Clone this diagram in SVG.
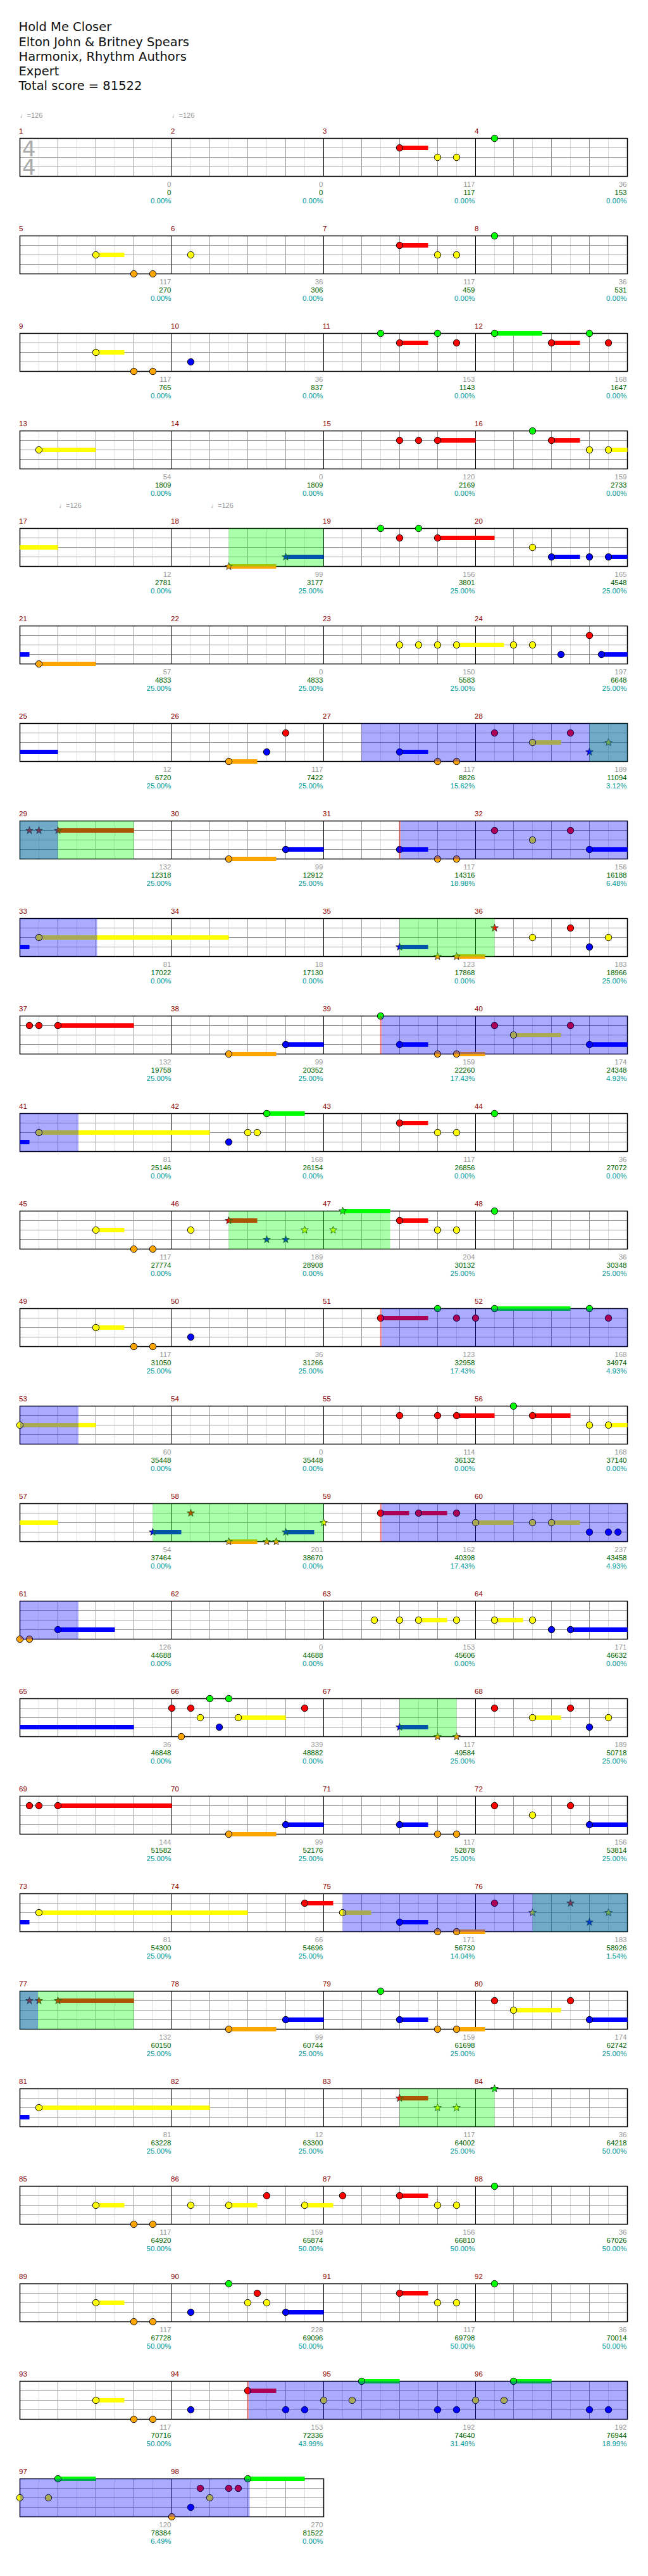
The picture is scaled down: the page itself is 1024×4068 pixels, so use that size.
<svg xmlns="http://www.w3.org/2000/svg" xmlns:xlink="http://www.w3.org/1999/xlink" width="1024" height="4068" viewBox="0 0 1024 4068">
<style>
.ti{font-family:"DejaVu Sans",sans-serif;font-size:19.5px;fill:#111}
.mn{font-family:"Liberation Sans",sans-serif;font-size:11.5px;fill:#8b0000}
.sc,.cu,.pc{font-family:"Liberation Sans",sans-serif;font-size:11.5px;text-anchor:end}
.sc{fill:#999}.cu{fill:#006400}.pc{fill:#009999}
.tp{font-family:"Liberation Sans","DejaVu Sans",sans-serif;font-size:11px;fill:#999}
.ts{font-family:"DejaVu Sans",sans-serif;font-size:34px;fill:#aaa}
.hG{fill:#0f0}.hR{fill:#f00}.hY{fill:#ff0}.hB{fill:#00f}.hO{fill:#ffa500}
.spz{fill:#0f0;opacity:.333}.act{fill:#00f;opacity:.333}.al{fill:#f00;opacity:.4}
</style>
<defs>
<g id="grid4">
<path d="M61.5 0V60M121.5 0V60M181.5 0V60M241.5 0V60M301.5 0V60M361.5 0V60M421.5 0V60M481.5 0V60M541.5 0V60M601.5 0V60M661.5 0V60M721.5 0V60M781.5 0V60M841.5 0V60M901.5 0V60M961.5 0V60" stroke="#ddd" fill="none"/>
<path d="M91.5 0V60M151.5 0V60M211.5 0V60M331.5 0V60M391.5 0V60M451.5 0V60M571.5 0V60M631.5 0V60M691.5 0V60M811.5 0V60M871.5 0V60M931.5 0V60M31.5 15H991.5M31.5 30H991.5M31.5 45H991.5" stroke="#999" fill="none"/>
<path d="M271.5 0V60M511.5 0V60M751.5 0V60" stroke="#000" fill="none"/>
<rect x="31.5" y="0" width="960" height="60" fill="none" stroke="#000" stroke-width="1.5"/>
</g>
<g id="grid2">
<path d="M61.5 0V60M121.5 0V60M181.5 0V60M241.5 0V60M301.5 0V60M361.5 0V60M421.5 0V60M481.5 0V60" stroke="#ddd" fill="none"/>
<path d="M91.5 0V60M151.5 0V60M211.5 0V60M331.5 0V60M391.5 0V60M451.5 0V60M31.5 15H511.5M31.5 30H511.5M31.5 45H511.5" stroke="#999" fill="none"/>
<path d="M271.5 0V60" stroke="#000" fill="none"/>
<rect x="31.5" y="0" width="480" height="60" fill="none" stroke="#000" stroke-width="1.5"/>
</g>
<circle id="nG" r="5.2" fill="#0f0" stroke="#000"/>
<circle id="nR" r="5.2" fill="#f00" stroke="#000"/>
<circle id="nY" r="5.2" fill="#ff0" stroke="#000"/>
<circle id="nB" r="5.2" fill="#00f" stroke="#000"/>
<circle id="nO" r="5.2" fill="#ffa500" stroke="#000"/>
<polygon id="sG" points="0,-6.2 1.5,-2.1 5.9,-1.9 2.4,0.8 3.6,5 0,2.6 -3.6,5 -2.4,0.8 -5.9,-1.9 -1.5,-2.1" fill="#0f0" stroke="#222" stroke-width=".8"/>
<polygon id="sR" points="0,-6.2 1.5,-2.1 5.9,-1.9 2.4,0.8 3.6,5 0,2.6 -3.6,5 -2.4,0.8 -5.9,-1.9 -1.5,-2.1" fill="#f00" stroke="#222" stroke-width=".8"/>
<polygon id="sY" points="0,-6.2 1.5,-2.1 5.9,-1.9 2.4,0.8 3.6,5 0,2.6 -3.6,5 -2.4,0.8 -5.9,-1.9 -1.5,-2.1" fill="#ff0" stroke="#222" stroke-width=".8"/>
<polygon id="sB" points="0,-6.2 1.5,-2.1 5.9,-1.9 2.4,0.8 3.6,5 0,2.6 -3.6,5 -2.4,0.8 -5.9,-1.9 -1.5,-2.1" fill="#00f" stroke="#222" stroke-width=".8"/>
<polygon id="sO" points="0,-6.2 1.5,-2.1 5.9,-1.9 2.4,0.8 3.6,5 0,2.6 -3.6,5 -2.4,0.8 -5.9,-1.9 -1.5,-2.1" fill="#ffa500" stroke="#222" stroke-width=".8"/>
</defs>
<rect width="1024" height="4068" fill="#fff"/>
<g id="header">
<text class="ti" x="29.5" y="49.3">Hold Me Closer</text>
<text class="ti" x="29.5" y="72.5">Elton John &amp; Britney Spears</text>
<text class="ti" x="29.5" y="95.5">Harmonix, Rhythm Authors</text>
<text class="ti" x="29.5" y="118.6">Expert</text>
<text class="ti" x="29.5" y="141.6">Total score = 81522</text>
</g>

<g id="row-1" transform="translate(0,218.5)">
<use href="#grid4"/>
<text class="tp" x="31.5" y="-33">♩=126</text><text class="tp" x="271.5" y="-33">♩=126</text>
<text class="ts"><tspan x="35" y="28">4</tspan><tspan x="35" y="57.5">4</tspan></text>
<text class="mn" x="30" y="-7.5">1</text><text class="mn" x="270" y="-7.5">2</text><text class="mn" x="510" y="-7.5">3</text><text class="mn" x="750" y="-7.5">4</text>
<text class="sc" x="270.5" y="76.5">0</text><text class="sc" x="510.5" y="76.5">0</text><text class="sc" x="750.5" y="76.5">117</text><text class="sc" x="990.5" y="76.5">36</text>
<text class="cu" x="270.5" y="89.5">0</text><text class="cu" x="510.5" y="89.5">0</text><text class="cu" x="750.5" y="89.5">117</text><text class="cu" x="990.5" y="89.5">153</text>
<text class="pc" x="270.5" y="102.5">0.00%</text><text class="pc" x="510.5" y="102.5">0.00%</text><text class="pc" x="750.5" y="102.5">0.00%</text><text class="pc" x="990.5" y="102.5">0.00%</text>
<rect class="hR" x="631.5" y="11.5" width="45" height="7"/>
<use href="#nR" x="631.5" y="15"/><use href="#nY" x="691.5" y="30"/><use href="#nY" x="721.5" y="30"/><use href="#nG" x="781.5" y="0"/>
</g>

<g id="row-2" transform="translate(0,372.5)">
<use href="#grid4"/>
<text class="mn" x="30" y="-7.5">5</text><text class="mn" x="270" y="-7.5">6</text><text class="mn" x="510" y="-7.5">7</text><text class="mn" x="750" y="-7.5">8</text>
<text class="sc" x="270.5" y="76.5">117</text><text class="sc" x="510.5" y="76.5">36</text><text class="sc" x="750.5" y="76.5">117</text><text class="sc" x="990.5" y="76.5">36</text>
<text class="cu" x="270.5" y="89.5">270</text><text class="cu" x="510.5" y="89.5">306</text><text class="cu" x="750.5" y="89.5">459</text><text class="cu" x="990.5" y="89.5">531</text>
<text class="pc" x="270.5" y="102.5">0.00%</text><text class="pc" x="510.5" y="102.5">0.00%</text><text class="pc" x="750.5" y="102.5">0.00%</text><text class="pc" x="990.5" y="102.5">0.00%</text>
<rect class="hY" x="151.5" y="26.5" width="45" height="7"/><rect class="hR" x="631.5" y="11.5" width="45" height="7"/>
<use href="#nY" x="151.5" y="30"/><use href="#nO" x="211.5" y="60"/><use href="#nO" x="241.5" y="60"/><use href="#nY" x="301.5" y="30"/>
<use href="#nR" x="631.5" y="15"/><use href="#nY" x="691.5" y="30"/><use href="#nY" x="721.5" y="30"/><use href="#nG" x="781.5" y="0"/>
</g>

<g id="row-3" transform="translate(0,526.5)">
<use href="#grid4"/>
<text class="mn" x="30" y="-7.5">9</text><text class="mn" x="270" y="-7.5">10</text><text class="mn" x="510" y="-7.5">11</text><text class="mn" x="750" y="-7.5">12</text>
<text class="sc" x="270.5" y="76.5">117</text><text class="sc" x="510.5" y="76.5">36</text><text class="sc" x="750.5" y="76.5">153</text><text class="sc" x="990.5" y="76.5">168</text>
<text class="cu" x="270.5" y="89.5">765</text><text class="cu" x="510.5" y="89.5">837</text><text class="cu" x="750.5" y="89.5">1143</text><text class="cu" x="990.5" y="89.5">1647</text>
<text class="pc" x="270.5" y="102.5">0.00%</text><text class="pc" x="510.5" y="102.5">0.00%</text><text class="pc" x="750.5" y="102.5">0.00%</text><text class="pc" x="990.5" y="102.5">0.00%</text>
<rect class="hY" x="151.5" y="26.5" width="45" height="7"/><rect class="hR" x="631.5" y="11.5" width="45" height="7"/><rect class="hG" x="781.5" y="-3.5" width="75" height="7"/><rect class="hR" x="871.5" y="11.5" width="45" height="7"/>
<use href="#nY" x="151.5" y="30"/><use href="#nO" x="211.5" y="60"/><use href="#nO" x="241.5" y="60"/><use href="#nB" x="301.5" y="45"/>
<use href="#nG" x="601.5" y="0"/><use href="#nR" x="631.5" y="15"/><use href="#nG" x="691.5" y="0"/><use href="#nR" x="721.5" y="15"/>
<use href="#nG" x="781.5" y="0"/><use href="#nR" x="871.5" y="15"/><use href="#nG" x="931.5" y="0"/><use href="#nR" x="961.5" y="15"/>
</g>

<g id="row-4" transform="translate(0,680.5)">
<use href="#grid4"/>
<text class="mn" x="30" y="-7.5">13</text><text class="mn" x="270" y="-7.5">14</text><text class="mn" x="510" y="-7.5">15</text><text class="mn" x="750" y="-7.5">16</text>
<text class="sc" x="270.5" y="76.5">54</text><text class="sc" x="510.5" y="76.5">0</text><text class="sc" x="750.5" y="76.5">120</text><text class="sc" x="990.5" y="76.5">159</text>
<text class="cu" x="270.5" y="89.5">1809</text><text class="cu" x="510.5" y="89.5">1809</text><text class="cu" x="750.5" y="89.5">2169</text><text class="cu" x="990.5" y="89.5">2733</text>
<text class="pc" x="270.5" y="102.5">0.00%</text><text class="pc" x="510.5" y="102.5">0.00%</text><text class="pc" x="750.5" y="102.5">0.00%</text><text class="pc" x="990.5" y="102.5">0.00%</text>
<rect class="hY" x="61.5" y="26.5" width="90" height="7"/><rect class="hR" x="691.5" y="11.5" width="60" height="7"/><rect class="hR" x="871.5" y="11.5" width="45" height="7"/><rect class="hY" x="961.5" y="26.5" width="30" height="7"/>
<use href="#nY" x="61.5" y="30"/><use href="#nR" x="631.5" y="15"/><use href="#nR" x="661.5" y="15"/><use href="#nR" x="691.5" y="15"/>
<use href="#nG" x="841.5" y="0"/><use href="#nR" x="871.5" y="15"/><use href="#nY" x="931.5" y="30"/><use href="#nY" x="961.5" y="30"/>
</g>

<g id="row-5" transform="translate(0,834.5)">
<use href="#grid4"/>
<text class="tp" x="93" y="-33">♩=126</text><text class="tp" x="333" y="-33">♩=126</text>
<text class="mn" x="30" y="-7.5">17</text><text class="mn" x="270" y="-7.5">18</text><text class="mn" x="510" y="-7.5">19</text><text class="mn" x="750" y="-7.5">20</text>
<text class="sc" x="270.5" y="76.5">12</text><text class="sc" x="510.5" y="76.5">99</text><text class="sc" x="750.5" y="76.5">156</text><text class="sc" x="990.5" y="76.5">165</text>
<text class="cu" x="270.5" y="89.5">2781</text><text class="cu" x="510.5" y="89.5">3177</text><text class="cu" x="750.5" y="89.5">3801</text><text class="cu" x="990.5" y="89.5">4548</text>
<text class="pc" x="270.5" y="102.5">0.00%</text><text class="pc" x="510.5" y="102.5">25.00%</text><text class="pc" x="750.5" y="102.5">25.00%</text><text class="pc" x="990.5" y="102.5">25.00%</text>
<rect class="hY" x="31.5" y="26.5" width="60" height="7"/><rect class="hO" x="361.5" y="56.5" width="75" height="7"/><rect class="hB" x="451.5" y="41.5" width="60" height="7"/><rect class="hR" x="691.5" y="11.5" width="90" height="7"/><rect class="hB" x="871.5" y="41.5" width="45" height="7"/><rect class="hB" x="961.5" y="41.5" width="30" height="7"/>
<use href="#sO" x="361.5" y="60"/><use href="#sB" x="451.5" y="45"/>
<use href="#nG" x="601.5" y="0"/><use href="#nR" x="631.5" y="15"/><use href="#nG" x="661.5" y="0"/><use href="#nR" x="691.5" y="15"/>
<use href="#nY" x="841.5" y="30"/><use href="#nB" x="871.5" y="45"/><use href="#nB" x="931.5" y="45"/><use href="#nB" x="961.5" y="45"/>
<rect class="spz" x="361.5" y="0" width="150" height="60"/>
</g>

<g id="row-6" transform="translate(0,988.5)">
<use href="#grid4"/>
<text class="mn" x="30" y="-7.5">21</text><text class="mn" x="270" y="-7.5">22</text><text class="mn" x="510" y="-7.5">23</text><text class="mn" x="750" y="-7.5">24</text>
<text class="sc" x="270.5" y="76.5">57</text><text class="sc" x="510.5" y="76.5">0</text><text class="sc" x="750.5" y="76.5">150</text><text class="sc" x="990.5" y="76.5">197</text>
<text class="cu" x="270.5" y="89.5">4833</text><text class="cu" x="510.5" y="89.5">4833</text><text class="cu" x="750.5" y="89.5">5583</text><text class="cu" x="990.5" y="89.5">6648</text>
<text class="pc" x="270.5" y="102.5">25.00%</text><text class="pc" x="510.5" y="102.5">25.00%</text><text class="pc" x="750.5" y="102.5">25.00%</text><text class="pc" x="990.5" y="102.5">25.00%</text>
<rect class="hB" x="31.5" y="41.5" width="15" height="7"/><rect class="hO" x="61.5" y="56.5" width="90" height="7"/><rect class="hY" x="721.5" y="26.5" width="75" height="7"/><rect class="hB" x="950.5" y="41.5" width="41" height="7"/>
<use href="#nO" x="61.5" y="60"/>
<use href="#nY" x="631.5" y="30"/><use href="#nY" x="661.5" y="30"/><use href="#nY" x="691.5" y="30"/><use href="#nY" x="721.5" y="30"/>
<use href="#nY" x="811.5" y="30"/><use href="#nY" x="841.5" y="30"/><use href="#nB" x="886.5" y="45"/><use href="#nR" x="931.5" y="15"/><use href="#nB" x="950.5" y="45"/>
</g>

<g id="row-7" transform="translate(0,1142.5)">
<use href="#grid4"/>
<text class="mn" x="30" y="-7.5">25</text><text class="mn" x="270" y="-7.5">26</text><text class="mn" x="510" y="-7.5">27</text><text class="mn" x="750" y="-7.5">28</text>
<text class="sc" x="270.5" y="76.5">12</text><text class="sc" x="510.5" y="76.5">117</text><text class="sc" x="750.5" y="76.5">117</text><text class="sc" x="990.5" y="76.5">189</text>
<text class="cu" x="270.5" y="89.5">6720</text><text class="cu" x="510.5" y="89.5">7422</text><text class="cu" x="750.5" y="89.5">8826</text><text class="cu" x="990.5" y="89.5">11094</text>
<text class="pc" x="270.5" y="102.5">25.00%</text><text class="pc" x="510.5" y="102.5">25.00%</text><text class="pc" x="750.5" y="102.5">15.62%</text><text class="pc" x="990.5" y="102.5">3.12%</text>
<rect class="hB" x="31.5" y="41.5" width="60" height="7"/><rect class="hO" x="361.5" y="56.5" width="45" height="7"/><rect class="hB" x="631.5" y="41.5" width="45" height="7"/><rect class="hY" x="841.5" y="26.5" width="45" height="7"/>
<use href="#nO" x="361.5" y="60"/><use href="#nB" x="421.5" y="45"/><use href="#nR" x="451.5" y="15"/>
<use href="#nB" x="631.5" y="45"/><use href="#nO" x="691.5" y="60"/><use href="#nO" x="721.5" y="60"/>
<use href="#nR" x="781.5" y="15"/><use href="#nY" x="841.5" y="30"/><use href="#nR" x="901.5" y="15"/><use href="#sB" x="931.5" y="45"/><use href="#sY" x="961.5" y="30"/>
<rect class="spz" x="931.5" y="0" width="60" height="60"/>
<rect class="act" x="571.5" y="0" width="420" height="60"/>
</g>

<g id="row-8" transform="translate(0,1296.5)">
<use href="#grid4"/>
<text class="mn" x="30" y="-7.5">29</text><text class="mn" x="270" y="-7.5">30</text><text class="mn" x="510" y="-7.5">31</text><text class="mn" x="750" y="-7.5">32</text>
<text class="sc" x="270.5" y="76.5">132</text><text class="sc" x="510.5" y="76.5">99</text><text class="sc" x="750.5" y="76.5">117</text><text class="sc" x="990.5" y="76.5">156</text>
<text class="cu" x="270.5" y="89.5">12318</text><text class="cu" x="510.5" y="89.5">12912</text><text class="cu" x="750.5" y="89.5">14316</text><text class="cu" x="990.5" y="89.5">16188</text>
<text class="pc" x="270.5" y="102.5">25.00%</text><text class="pc" x="510.5" y="102.5">25.00%</text><text class="pc" x="750.5" y="102.5">18.98%</text><text class="pc" x="990.5" y="102.5">6.48%</text>
<rect class="hR" x="91.5" y="11.5" width="120" height="7"/><rect class="hO" x="361.5" y="56.5" width="75" height="7"/><rect class="hB" x="451.5" y="41.5" width="60" height="7"/><rect class="hB" x="631.5" y="41.5" width="45" height="7"/><rect class="hB" x="931.5" y="41.5" width="60" height="7"/>
<use href="#sR" x="46.5" y="15"/><use href="#sR" x="61.5" y="15"/><use href="#sR" x="91.5" y="15"/>
<use href="#nO" x="361.5" y="60"/><use href="#nB" x="451.5" y="45"/>
<use href="#nB" x="631.5" y="45"/><use href="#nO" x="691.5" y="60"/><use href="#nO" x="721.5" y="60"/>
<use href="#nR" x="781.5" y="15"/><use href="#nY" x="841.5" y="30"/><use href="#nR" x="901.5" y="15"/><use href="#nB" x="931.5" y="45"/>
<rect class="spz" x="31.5" y="0" width="180" height="60"/>
<rect class="act" x="31.5" y="0" width="60" height="60"/>
<rect class="act" x="633" y="0" width="358.5" height="60"/>
<rect class="al" x="630.5" y="0" width="2.5" height="60"/>
</g>

<g id="row-9" transform="translate(0,1450.5)">
<use href="#grid4"/>
<text class="mn" x="30" y="-7.5">33</text><text class="mn" x="270" y="-7.5">34</text><text class="mn" x="510" y="-7.5">35</text><text class="mn" x="750" y="-7.5">36</text>
<text class="sc" x="270.5" y="76.5">81</text><text class="sc" x="510.5" y="76.5">18</text><text class="sc" x="750.5" y="76.5">123</text><text class="sc" x="990.5" y="76.5">183</text>
<text class="cu" x="270.5" y="89.5">17022</text><text class="cu" x="510.5" y="89.5">17130</text><text class="cu" x="750.5" y="89.5">17868</text><text class="cu" x="990.5" y="89.5">18966</text>
<text class="pc" x="270.5" y="102.5">0.00%</text><text class="pc" x="510.5" y="102.5">0.00%</text><text class="pc" x="750.5" y="102.5">0.00%</text><text class="pc" x="990.5" y="102.5">25.00%</text>
<rect class="hB" x="31.5" y="41.5" width="15" height="7"/><rect class="hY" x="61.5" y="26.5" width="300" height="7"/><rect class="hB" x="631.5" y="41.5" width="45" height="7"/><rect class="hO" x="721.5" y="56.5" width="45" height="7"/>
<use href="#nY" x="61.5" y="30"/>
<use href="#sB" x="631.5" y="45"/><use href="#sO" x="691.5" y="60"/><use href="#sO" x="721.5" y="60"/>
<use href="#sR" x="781.5" y="15"/><use href="#nY" x="841.5" y="30"/><use href="#nR" x="901.5" y="15"/><use href="#nB" x="931.5" y="45"/><use href="#nY" x="961.5" y="30"/>
<rect class="spz" x="631.5" y="0" width="150" height="60"/>
<rect class="act" x="31.5" y="0" width="122" height="60"/>
</g>

<g id="row-10" transform="translate(0,1604.5)">
<use href="#grid4"/>
<text class="mn" x="30" y="-7.5">37</text><text class="mn" x="270" y="-7.5">38</text><text class="mn" x="510" y="-7.5">39</text><text class="mn" x="750" y="-7.5">40</text>
<text class="sc" x="270.5" y="76.5">132</text><text class="sc" x="510.5" y="76.5">99</text><text class="sc" x="750.5" y="76.5">159</text><text class="sc" x="990.5" y="76.5">174</text>
<text class="cu" x="270.5" y="89.5">19758</text><text class="cu" x="510.5" y="89.5">20352</text><text class="cu" x="750.5" y="89.5">22260</text><text class="cu" x="990.5" y="89.5">24348</text>
<text class="pc" x="270.5" y="102.5">25.00%</text><text class="pc" x="510.5" y="102.5">25.00%</text><text class="pc" x="750.5" y="102.5">17.43%</text><text class="pc" x="990.5" y="102.5">4.93%</text>
<rect class="hR" x="91.5" y="11.5" width="120" height="7"/><rect class="hO" x="361.5" y="56.5" width="75" height="7"/><rect class="hB" x="451.5" y="41.5" width="60" height="7"/><rect class="hB" x="631.5" y="41.5" width="45" height="7"/><rect class="hO" x="721.5" y="56.5" width="45" height="7"/><rect class="hY" x="811.5" y="26.5" width="75" height="7"/><rect class="hB" x="931.5" y="41.5" width="60" height="7"/>
<use href="#nR" x="46.5" y="15"/><use href="#nR" x="61.5" y="15"/><use href="#nR" x="91.5" y="15"/>
<use href="#nO" x="361.5" y="60"/><use href="#nB" x="451.5" y="45"/>
<use href="#nG" x="601.5" y="0"/><use href="#nB" x="631.5" y="45"/><use href="#nO" x="691.5" y="60"/><use href="#nO" x="721.5" y="60"/>
<use href="#nR" x="781.5" y="15"/><use href="#nY" x="811.5" y="30"/><use href="#nR" x="901.5" y="15"/><use href="#nB" x="931.5" y="45"/>
<rect class="act" x="603" y="0" width="388.5" height="60"/>
<rect class="al" x="600.5" y="0" width="2.5" height="60"/>
</g>

<g id="row-11" transform="translate(0,1758.5)">
<use href="#grid4"/>
<text class="mn" x="30" y="-7.5">41</text><text class="mn" x="270" y="-7.5">42</text><text class="mn" x="510" y="-7.5">43</text><text class="mn" x="750" y="-7.5">44</text>
<text class="sc" x="270.5" y="76.5">81</text><text class="sc" x="510.5" y="76.5">168</text><text class="sc" x="750.5" y="76.5">117</text><text class="sc" x="990.5" y="76.5">36</text>
<text class="cu" x="270.5" y="89.5">25146</text><text class="cu" x="510.5" y="89.5">26154</text><text class="cu" x="750.5" y="89.5">26856</text><text class="cu" x="990.5" y="89.5">27072</text>
<text class="pc" x="270.5" y="102.5">0.00%</text><text class="pc" x="510.5" y="102.5">0.00%</text><text class="pc" x="750.5" y="102.5">0.00%</text><text class="pc" x="990.5" y="102.5">0.00%</text>
<rect class="hB" x="31.5" y="41.5" width="15" height="7"/><rect class="hY" x="61.5" y="26.5" width="270" height="7"/><rect class="hG" x="421.5" y="-3.5" width="60" height="7"/><rect class="hR" x="631.5" y="11.5" width="45" height="7"/>
<use href="#nY" x="61.5" y="30"/>
<use href="#nB" x="361.5" y="45"/><use href="#nY" x="391.5" y="30"/><use href="#nY" x="406.5" y="30"/><use href="#nG" x="421.5" y="0"/>
<use href="#nR" x="631.5" y="15"/><use href="#nY" x="691.5" y="30"/><use href="#nY" x="721.5" y="30"/><use href="#nG" x="781.5" y="0"/>
<rect class="act" x="31.5" y="0" width="92.5" height="60"/>
</g>

<g id="row-12" transform="translate(0,1912.5)">
<use href="#grid4"/>
<text class="mn" x="30" y="-7.5">45</text><text class="mn" x="270" y="-7.5">46</text><text class="mn" x="510" y="-7.5">47</text><text class="mn" x="750" y="-7.5">48</text>
<text class="sc" x="270.5" y="76.5">117</text><text class="sc" x="510.5" y="76.5">189</text><text class="sc" x="750.5" y="76.5">204</text><text class="sc" x="990.5" y="76.5">36</text>
<text class="cu" x="270.5" y="89.5">27774</text><text class="cu" x="510.5" y="89.5">28908</text><text class="cu" x="750.5" y="89.5">30132</text><text class="cu" x="990.5" y="89.5">30348</text>
<text class="pc" x="270.5" y="102.5">0.00%</text><text class="pc" x="510.5" y="102.5">0.00%</text><text class="pc" x="750.5" y="102.5">25.00%</text><text class="pc" x="990.5" y="102.5">25.00%</text>
<rect class="hY" x="151.5" y="26.5" width="45" height="7"/><rect class="hR" x="361.5" y="11.5" width="45" height="7"/><rect class="hG" x="541.5" y="-3.5" width="75" height="7"/><rect class="hR" x="631.5" y="11.5" width="45" height="7"/>
<use href="#nY" x="151.5" y="30"/><use href="#nO" x="211.5" y="60"/><use href="#nO" x="241.5" y="60"/>
<use href="#nY" x="301.5" y="30"/><use href="#sR" x="361.5" y="15"/><use href="#sB" x="421.5" y="45"/><use href="#sB" x="451.5" y="45"/><use href="#sY" x="481.5" y="30"/>
<use href="#sY" x="526.5" y="30"/><use href="#sG" x="541.5" y="0"/><use href="#nR" x="631.5" y="15"/><use href="#nY" x="691.5" y="30"/><use href="#nY" x="721.5" y="30"/>
<use href="#nG" x="781.5" y="0"/>
<rect class="spz" x="361.5" y="0" width="255" height="60"/>
</g>

<g id="row-13" transform="translate(0,2066.5)">
<use href="#grid4"/>
<text class="mn" x="30" y="-7.5">49</text><text class="mn" x="270" y="-7.5">50</text><text class="mn" x="510" y="-7.5">51</text><text class="mn" x="750" y="-7.5">52</text>
<text class="sc" x="270.5" y="76.5">117</text><text class="sc" x="510.5" y="76.5">36</text><text class="sc" x="750.5" y="76.5">123</text><text class="sc" x="990.5" y="76.5">168</text>
<text class="cu" x="270.5" y="89.5">31050</text><text class="cu" x="510.5" y="89.5">31266</text><text class="cu" x="750.5" y="89.5">32958</text><text class="cu" x="990.5" y="89.5">34974</text>
<text class="pc" x="270.5" y="102.5">25.00%</text><text class="pc" x="510.5" y="102.5">25.00%</text><text class="pc" x="750.5" y="102.5">17.43%</text><text class="pc" x="990.5" y="102.5">4.93%</text>
<rect class="hY" x="151.5" y="26.5" width="45" height="7"/><rect class="hR" x="601.5" y="11.5" width="75" height="7"/><rect class="hG" x="781.5" y="-3.5" width="120" height="7"/>
<use href="#nY" x="151.5" y="30"/><use href="#nO" x="211.5" y="60"/><use href="#nO" x="241.5" y="60"/><use href="#nB" x="301.5" y="45"/>
<use href="#nR" x="601.5" y="15"/><use href="#nG" x="691.5" y="0"/><use href="#nR" x="721.5" y="15"/><use href="#nR" x="751.5" y="15"/>
<use href="#nG" x="781.5" y="0"/><use href="#nG" x="931.5" y="0"/><use href="#nR" x="961.5" y="15"/>
<rect class="act" x="603" y="0" width="388.5" height="60"/>
<rect class="al" x="600.5" y="0" width="2.5" height="60"/>
</g>

<g id="row-14" transform="translate(0,2220.5)">
<use href="#grid4"/>
<text class="mn" x="30" y="-7.5">53</text><text class="mn" x="270" y="-7.5">54</text><text class="mn" x="510" y="-7.5">55</text><text class="mn" x="750" y="-7.5">56</text>
<text class="sc" x="270.5" y="76.5">60</text><text class="sc" x="510.5" y="76.5">0</text><text class="sc" x="750.5" y="76.5">114</text><text class="sc" x="990.5" y="76.5">168</text>
<text class="cu" x="270.5" y="89.5">35448</text><text class="cu" x="510.5" y="89.5">35448</text><text class="cu" x="750.5" y="89.5">36132</text><text class="cu" x="990.5" y="89.5">37140</text>
<text class="pc" x="270.5" y="102.5">0.00%</text><text class="pc" x="510.5" y="102.5">0.00%</text><text class="pc" x="750.5" y="102.5">0.00%</text><text class="pc" x="990.5" y="102.5">0.00%</text>
<rect class="hY" x="31.5" y="26.5" width="120" height="7"/><rect class="hR" x="721.5" y="11.5" width="60" height="7"/><rect class="hR" x="841.5" y="11.5" width="60" height="7"/><rect class="hY" x="961.5" y="26.5" width="30" height="7"/>
<use href="#nY" x="31.5" y="30"/>
<use href="#nR" x="631.5" y="15"/><use href="#nR" x="691.5" y="15"/><use href="#nR" x="721.5" y="15"/>
<use href="#nG" x="811.5" y="0"/><use href="#nR" x="841.5" y="15"/><use href="#nY" x="931.5" y="30"/><use href="#nY" x="961.5" y="30"/>
<rect class="act" x="31.5" y="0" width="92.5" height="60"/>
</g>

<g id="row-15" transform="translate(0,2374.5)">
<use href="#grid4"/>
<text class="mn" x="30" y="-7.5">57</text><text class="mn" x="270" y="-7.5">58</text><text class="mn" x="510" y="-7.5">59</text><text class="mn" x="750" y="-7.5">60</text>
<text class="sc" x="270.5" y="76.5">54</text><text class="sc" x="510.5" y="76.5">201</text><text class="sc" x="750.5" y="76.5">162</text><text class="sc" x="990.5" y="76.5">237</text>
<text class="cu" x="270.5" y="89.5">37464</text><text class="cu" x="510.5" y="89.5">38670</text><text class="cu" x="750.5" y="89.5">40398</text><text class="cu" x="990.5" y="89.5">43458</text>
<text class="pc" x="270.5" y="102.5">0.00%</text><text class="pc" x="510.5" y="102.5">0.00%</text><text class="pc" x="750.5" y="102.5">17.43%</text><text class="pc" x="990.5" y="102.5">4.93%</text>
<rect class="hY" x="31.5" y="26.5" width="60" height="7"/><rect class="hB" x="241.5" y="41.5" width="45" height="7"/><rect class="hO" x="361.5" y="56.5" width="45" height="7"/><rect class="hB" x="451.5" y="41.5" width="45" height="7"/>
<rect class="hR" x="601.5" y="11.5" width="45" height="7"/><rect class="hR" x="661.5" y="11.5" width="45" height="7"/><rect class="hY" x="751.5" y="26.5" width="60" height="7"/><rect class="hY" x="871.5" y="26.5" width="45" height="7"/>
<use href="#sB" x="241.5" y="45"/><use href="#sR" x="301.5" y="15"/><use href="#sO" x="361.5" y="60"/><use href="#sO" x="421.5" y="60"/><use href="#sO" x="436.5" y="60"/><use href="#sB" x="451.5" y="45"/><use href="#sY" x="511.5" y="30"/>
<use href="#nR" x="601.5" y="15"/><use href="#nR" x="661.5" y="15"/><use href="#nR" x="721.5" y="15"/>
<use href="#nY" x="751.5" y="30"/><use href="#nY" x="841.5" y="30"/><use href="#nY" x="871.5" y="30"/><use href="#nB" x="931.5" y="45"/><use href="#nB" x="961.5" y="45"/><use href="#nB" x="976.5" y="45"/>
<rect class="spz" x="241.5" y="0" width="270" height="60"/>
<rect class="act" x="603" y="0" width="388.5" height="60"/>
<rect class="al" x="600.5" y="0" width="2.5" height="60"/>
</g>

<g id="row-16" transform="translate(0,2528.5)">
<use href="#grid4"/>
<text class="mn" x="30" y="-7.5">61</text><text class="mn" x="270" y="-7.5">62</text><text class="mn" x="510" y="-7.5">63</text><text class="mn" x="750" y="-7.5">64</text>
<text class="sc" x="270.5" y="76.5">126</text><text class="sc" x="510.5" y="76.5">0</text><text class="sc" x="750.5" y="76.5">153</text><text class="sc" x="990.5" y="76.5">171</text>
<text class="cu" x="270.5" y="89.5">44688</text><text class="cu" x="510.5" y="89.5">44688</text><text class="cu" x="750.5" y="89.5">45606</text><text class="cu" x="990.5" y="89.5">46632</text>
<text class="pc" x="270.5" y="102.5">0.00%</text><text class="pc" x="510.5" y="102.5">0.00%</text><text class="pc" x="750.5" y="102.5">0.00%</text><text class="pc" x="990.5" y="102.5">0.00%</text>
<rect class="hB" x="91.5" y="41.5" width="90" height="7"/><rect class="hY" x="661.5" y="26.5" width="45" height="7"/><rect class="hY" x="781.5" y="26.5" width="45" height="7"/><rect class="hB" x="901.5" y="41.5" width="90" height="7"/>
<use href="#nO" x="31.5" y="60"/><use href="#nO" x="46.5" y="60"/><use href="#nB" x="91.5" y="45"/>
<use href="#nY" x="591.5" y="30"/><use href="#nY" x="631.5" y="30"/><use href="#nY" x="661.5" y="30"/><use href="#nY" x="721.5" y="30"/>
<use href="#nY" x="781.5" y="30"/><use href="#nY" x="841.5" y="30"/><use href="#nB" x="871.5" y="45"/><use href="#nB" x="901.5" y="45"/>
<rect class="act" x="31.5" y="0" width="92.5" height="60"/>
</g>

<g id="row-17" transform="translate(0,2682.5)">
<use href="#grid4"/>
<text class="mn" x="30" y="-7.5">65</text><text class="mn" x="270" y="-7.5">66</text><text class="mn" x="510" y="-7.5">67</text><text class="mn" x="750" y="-7.5">68</text>
<text class="sc" x="270.5" y="76.5">36</text><text class="sc" x="510.5" y="76.5">339</text><text class="sc" x="750.5" y="76.5">117</text><text class="sc" x="990.5" y="76.5">189</text>
<text class="cu" x="270.5" y="89.5">46848</text><text class="cu" x="510.5" y="89.5">48882</text><text class="cu" x="750.5" y="89.5">49584</text><text class="cu" x="990.5" y="89.5">50718</text>
<text class="pc" x="270.5" y="102.5">0.00%</text><text class="pc" x="510.5" y="102.5">0.00%</text><text class="pc" x="750.5" y="102.5">25.00%</text><text class="pc" x="990.5" y="102.5">25.00%</text>
<rect class="hB" x="31.5" y="41.5" width="180" height="7"/><rect class="hY" x="376.5" y="26.5" width="75" height="7"/><rect class="hB" x="631.5" y="41.5" width="45" height="7"/><rect class="hY" x="841.5" y="26.5" width="45" height="7"/>
<use href="#nR" x="271.5" y="15"/><use href="#nO" x="286.5" y="60"/><use href="#nR" x="301.5" y="15"/><use href="#nY" x="316.5" y="30"/><use href="#nG" x="331.5" y="0"/><use href="#nB" x="346.5" y="45"/><use href="#nG" x="361.5" y="0"/><use href="#nY" x="376.5" y="30"/><use href="#nR" x="481.5" y="15"/>
<use href="#sB" x="631.5" y="45"/><use href="#sO" x="691.5" y="60"/><use href="#sO" x="721.5" y="60"/>
<use href="#nR" x="781.5" y="15"/><use href="#nY" x="841.5" y="30"/><use href="#nR" x="901.5" y="15"/><use href="#nB" x="931.5" y="45"/><use href="#nY" x="961.5" y="30"/>
<rect class="spz" x="631.5" y="0" width="90" height="60"/>
</g>

<g id="row-18" transform="translate(0,2836.5)">
<use href="#grid4"/>
<text class="mn" x="30" y="-7.5">69</text><text class="mn" x="270" y="-7.5">70</text><text class="mn" x="510" y="-7.5">71</text><text class="mn" x="750" y="-7.5">72</text>
<text class="sc" x="270.5" y="76.5">144</text><text class="sc" x="510.5" y="76.5">99</text><text class="sc" x="750.5" y="76.5">117</text><text class="sc" x="990.5" y="76.5">156</text>
<text class="cu" x="270.5" y="89.5">51582</text><text class="cu" x="510.5" y="89.5">52176</text><text class="cu" x="750.5" y="89.5">52878</text><text class="cu" x="990.5" y="89.5">53814</text>
<text class="pc" x="270.5" y="102.5">25.00%</text><text class="pc" x="510.5" y="102.5">25.00%</text><text class="pc" x="750.5" y="102.5">25.00%</text><text class="pc" x="990.5" y="102.5">25.00%</text>
<rect class="hR" x="91.5" y="11.5" width="180" height="7"/><rect class="hO" x="361.5" y="56.5" width="75" height="7"/><rect class="hB" x="451.5" y="41.5" width="60" height="7"/><rect class="hB" x="631.5" y="41.5" width="45" height="7"/><rect class="hB" x="931.5" y="41.5" width="60" height="7"/>
<use href="#nR" x="46.5" y="15"/><use href="#nR" x="61.5" y="15"/><use href="#nR" x="91.5" y="15"/>
<use href="#nO" x="361.5" y="60"/><use href="#nB" x="451.5" y="45"/>
<use href="#nB" x="631.5" y="45"/><use href="#nO" x="691.5" y="60"/><use href="#nO" x="721.5" y="60"/>
<use href="#nR" x="781.5" y="15"/><use href="#nY" x="841.5" y="30"/><use href="#nR" x="901.5" y="15"/><use href="#nB" x="931.5" y="45"/>
</g>

<g id="row-19" transform="translate(0,2990.5)">
<use href="#grid4"/>
<text class="mn" x="30" y="-7.5">73</text><text class="mn" x="270" y="-7.5">74</text><text class="mn" x="510" y="-7.5">75</text><text class="mn" x="750" y="-7.5">76</text>
<text class="sc" x="270.5" y="76.5">81</text><text class="sc" x="510.5" y="76.5">66</text><text class="sc" x="750.5" y="76.5">171</text><text class="sc" x="990.5" y="76.5">183</text>
<text class="cu" x="270.5" y="89.5">54300</text><text class="cu" x="510.5" y="89.5">54696</text><text class="cu" x="750.5" y="89.5">56730</text><text class="cu" x="990.5" y="89.5">58926</text>
<text class="pc" x="270.5" y="102.5">25.00%</text><text class="pc" x="510.5" y="102.5">25.00%</text><text class="pc" x="750.5" y="102.5">14.04%</text><text class="pc" x="990.5" y="102.5">1.54%</text>
<rect class="hB" x="31.5" y="41.5" width="15" height="7"/><rect class="hY" x="61.5" y="26.5" width="330" height="7"/><rect class="hR" x="481.5" y="11.5" width="45" height="7"/><rect class="hY" x="541.5" y="26.5" width="45" height="7"/><rect class="hB" x="631.5" y="41.5" width="45" height="7"/><rect class="hO" x="721.5" y="56.5" width="45" height="7"/>
<use href="#nY" x="61.5" y="30"/><use href="#nR" x="481.5" y="15"/>
<use href="#nY" x="541.5" y="30"/><use href="#nB" x="631.5" y="45"/><use href="#nO" x="691.5" y="60"/><use href="#nO" x="721.5" y="60"/>
<use href="#nR" x="781.5" y="15"/><use href="#sY" x="841.5" y="30"/><use href="#sR" x="901.5" y="15"/><use href="#sB" x="931.5" y="45"/><use href="#sY" x="961.5" y="30"/>
<rect class="spz" x="841.5" y="0" width="150" height="60"/>
<rect class="act" x="541.5" y="0" width="450" height="60"/>
</g>

<g id="row-20" transform="translate(0,3144.5)">
<use href="#grid4"/>
<text class="mn" x="30" y="-7.5">77</text><text class="mn" x="270" y="-7.5">78</text><text class="mn" x="510" y="-7.5">79</text><text class="mn" x="750" y="-7.5">80</text>
<text class="sc" x="270.5" y="76.5">132</text><text class="sc" x="510.5" y="76.5">99</text><text class="sc" x="750.5" y="76.5">159</text><text class="sc" x="990.5" y="76.5">174</text>
<text class="cu" x="270.5" y="89.5">60150</text><text class="cu" x="510.5" y="89.5">60744</text><text class="cu" x="750.5" y="89.5">61698</text><text class="cu" x="990.5" y="89.5">62742</text>
<text class="pc" x="270.5" y="102.5">25.00%</text><text class="pc" x="510.5" y="102.5">25.00%</text><text class="pc" x="750.5" y="102.5">25.00%</text><text class="pc" x="990.5" y="102.5">25.00%</text>
<rect class="hR" x="91.5" y="11.5" width="120" height="7"/><rect class="hO" x="361.5" y="56.5" width="75" height="7"/><rect class="hB" x="451.5" y="41.5" width="60" height="7"/><rect class="hB" x="631.5" y="41.5" width="45" height="7"/><rect class="hO" x="721.5" y="56.5" width="45" height="7"/><rect class="hY" x="811.5" y="26.5" width="75" height="7"/><rect class="hB" x="931.5" y="41.5" width="60" height="7"/>
<use href="#sR" x="46.5" y="15"/><use href="#sR" x="61.5" y="15"/><use href="#sR" x="91.5" y="15"/>
<use href="#nO" x="361.5" y="60"/><use href="#nB" x="451.5" y="45"/>
<use href="#nG" x="601.5" y="0"/><use href="#nB" x="631.5" y="45"/><use href="#nO" x="691.5" y="60"/><use href="#nO" x="721.5" y="60"/>
<use href="#nR" x="781.5" y="15"/><use href="#nY" x="811.5" y="30"/><use href="#nR" x="901.5" y="15"/><use href="#nB" x="931.5" y="45"/>
<rect class="spz" x="31.5" y="0" width="180" height="60"/>
<rect class="act" x="31.5" y="0" width="28.5" height="60"/>
</g>

<g id="row-21" transform="translate(0,3298.5)">
<use href="#grid4"/>
<text class="mn" x="30" y="-7.5">81</text><text class="mn" x="270" y="-7.5">82</text><text class="mn" x="510" y="-7.5">83</text><text class="mn" x="750" y="-7.5">84</text>
<text class="sc" x="270.5" y="76.5">81</text><text class="sc" x="510.5" y="76.5">12</text><text class="sc" x="750.5" y="76.5">117</text><text class="sc" x="990.5" y="76.5">36</text>
<text class="cu" x="270.5" y="89.5">63228</text><text class="cu" x="510.5" y="89.5">63300</text><text class="cu" x="750.5" y="89.5">64002</text><text class="cu" x="990.5" y="89.5">64218</text>
<text class="pc" x="270.5" y="102.5">25.00%</text><text class="pc" x="510.5" y="102.5">25.00%</text><text class="pc" x="750.5" y="102.5">25.00%</text><text class="pc" x="990.5" y="102.5">50.00%</text>
<rect class="hB" x="31.5" y="41.5" width="15" height="7"/><rect class="hY" x="61.5" y="26.5" width="270" height="7"/><rect class="hR" x="631.5" y="11.5" width="45" height="7"/>
<use href="#nY" x="61.5" y="30"/>
<use href="#sR" x="631.5" y="15"/><use href="#sY" x="691.5" y="30"/><use href="#sY" x="721.5" y="30"/><use href="#sG" x="781.5" y="0"/>
<rect class="spz" x="631.5" y="0" width="150" height="60"/>
</g>

<g id="row-22" transform="translate(0,3452.5)">
<use href="#grid4"/>
<text class="mn" x="30" y="-7.5">85</text><text class="mn" x="270" y="-7.5">86</text><text class="mn" x="510" y="-7.5">87</text><text class="mn" x="750" y="-7.5">88</text>
<text class="sc" x="270.5" y="76.5">117</text><text class="sc" x="510.5" y="76.5">159</text><text class="sc" x="750.5" y="76.5">156</text><text class="sc" x="990.5" y="76.5">36</text>
<text class="cu" x="270.5" y="89.5">64920</text><text class="cu" x="510.5" y="89.5">65874</text><text class="cu" x="750.5" y="89.5">66810</text><text class="cu" x="990.5" y="89.5">67026</text>
<text class="pc" x="270.5" y="102.5">50.00%</text><text class="pc" x="510.5" y="102.5">50.00%</text><text class="pc" x="750.5" y="102.5">50.00%</text><text class="pc" x="990.5" y="102.5">50.00%</text>
<rect class="hY" x="151.5" y="26.5" width="45" height="7"/><rect class="hY" x="361.5" y="26.5" width="45" height="7"/><rect class="hY" x="481.5" y="26.5" width="45" height="7"/><rect class="hR" x="631.5" y="11.5" width="45" height="7"/>
<use href="#nY" x="151.5" y="30"/><use href="#nO" x="211.5" y="60"/><use href="#nO" x="241.5" y="60"/>
<use href="#nY" x="301.5" y="30"/><use href="#nY" x="361.5" y="30"/><use href="#nR" x="421.5" y="15"/><use href="#nY" x="481.5" y="30"/>
<use href="#nR" x="541.5" y="15"/><use href="#nR" x="631.5" y="15"/><use href="#nY" x="691.5" y="30"/><use href="#nY" x="721.5" y="30"/><use href="#nG" x="781.5" y="0"/>
</g>

<g id="row-23" transform="translate(0,3606.5)">
<use href="#grid4"/>
<text class="mn" x="30" y="-7.5">89</text><text class="mn" x="270" y="-7.5">90</text><text class="mn" x="510" y="-7.5">91</text><text class="mn" x="750" y="-7.5">92</text>
<text class="sc" x="270.5" y="76.5">117</text><text class="sc" x="510.5" y="76.5">228</text><text class="sc" x="750.5" y="76.5">117</text><text class="sc" x="990.5" y="76.5">36</text>
<text class="cu" x="270.5" y="89.5">67728</text><text class="cu" x="510.5" y="89.5">69096</text><text class="cu" x="750.5" y="89.5">69798</text><text class="cu" x="990.5" y="89.5">70014</text>
<text class="pc" x="270.5" y="102.5">50.00%</text><text class="pc" x="510.5" y="102.5">50.00%</text><text class="pc" x="750.5" y="102.5">50.00%</text><text class="pc" x="990.5" y="102.5">50.00%</text>
<rect class="hY" x="151.5" y="26.5" width="45" height="7"/><rect class="hB" x="451.5" y="41.5" width="60" height="7"/><rect class="hR" x="631.5" y="11.5" width="45" height="7"/>
<use href="#nY" x="151.5" y="30"/><use href="#nO" x="211.5" y="60"/><use href="#nO" x="241.5" y="60"/>
<use href="#nB" x="301.5" y="45"/><use href="#nG" x="361.5" y="0"/><use href="#nY" x="391.5" y="30"/><use href="#nR" x="406.5" y="15"/><use href="#nY" x="421.5" y="30"/><use href="#nB" x="451.5" y="45"/>
<use href="#nR" x="631.5" y="15"/><use href="#nY" x="691.5" y="30"/><use href="#nY" x="721.5" y="30"/><use href="#nG" x="781.5" y="0"/>
</g>

<g id="row-24" transform="translate(0,3760.5)">
<use href="#grid4"/>
<text class="mn" x="30" y="-7.5">93</text><text class="mn" x="270" y="-7.5">94</text><text class="mn" x="510" y="-7.5">95</text><text class="mn" x="750" y="-7.5">96</text>
<text class="sc" x="270.5" y="76.5">117</text><text class="sc" x="510.5" y="76.5">153</text><text class="sc" x="750.5" y="76.5">192</text><text class="sc" x="990.5" y="76.5">192</text>
<text class="cu" x="270.5" y="89.5">70716</text><text class="cu" x="510.5" y="89.5">72336</text><text class="cu" x="750.5" y="89.5">74640</text><text class="cu" x="990.5" y="89.5">76944</text>
<text class="pc" x="270.5" y="102.5">50.00%</text><text class="pc" x="510.5" y="102.5">43.99%</text><text class="pc" x="750.5" y="102.5">31.49%</text><text class="pc" x="990.5" y="102.5">18.99%</text>
<rect class="hY" x="151.5" y="26.5" width="45" height="7"/><rect class="hR" x="391.5" y="11.5" width="45" height="7"/><rect class="hG" x="571.5" y="-3.5" width="60" height="7"/><rect class="hG" x="811.5" y="-3.5" width="60" height="7"/>
<use href="#nY" x="151.5" y="30"/><use href="#nO" x="211.5" y="60"/><use href="#nO" x="241.5" y="60"/>
<use href="#nB" x="301.5" y="45"/><use href="#nR" x="391.5" y="15"/><use href="#nB" x="451.5" y="45"/><use href="#nB" x="481.5" y="45"/>
<use href="#nY" x="511.5" y="30"/><use href="#nY" x="556.5" y="30"/><use href="#nG" x="571.5" y="0"/><use href="#nB" x="691.5" y="45"/><use href="#nB" x="721.5" y="45"/>
<use href="#nY" x="751.5" y="30"/><use href="#nY" x="796.5" y="30"/><use href="#nG" x="811.5" y="0"/><use href="#nB" x="931.5" y="45"/><use href="#nB" x="961.5" y="45"/>
<rect class="act" x="393" y="0" width="598.5" height="60"/>
<rect class="al" x="390.5" y="0" width="2.5" height="60"/>
</g>

<g id="row-25" transform="translate(0,3914.5)">
<use href="#grid2"/>
<text class="mn" x="30" y="-7.5">97</text><text class="mn" x="270" y="-7.5">98</text>
<text class="sc" x="270.5" y="76.5">120</text><text class="sc" x="510.5" y="76.5">270</text>
<text class="cu" x="270.5" y="89.5">78384</text><text class="cu" x="510.5" y="89.5">81522</text>
<text class="pc" x="270.5" y="102.5">6.49%</text><text class="pc" x="510.5" y="102.5">0.00%</text>
<rect class="hG" x="91.5" y="-3.5" width="60" height="7"/><rect class="hG" x="391.5" y="-3.5" width="90" height="7"/>
<use href="#nY" x="31.5" y="30"/><use href="#nY" x="76.5" y="30"/><use href="#nG" x="91.5" y="0"/>
<use href="#nO" x="271.5" y="60"/><use href="#nB" x="301.5" y="45"/><use href="#nR" x="316.5" y="15"/><use href="#nY" x="331.5" y="30"/><use href="#nR" x="361.5" y="15"/><use href="#nR" x="376.5" y="15"/><use href="#nG" x="391.5" y="0"/>
<rect class="act" x="31.5" y="0" width="363" height="60"/>
</g>
</svg>
